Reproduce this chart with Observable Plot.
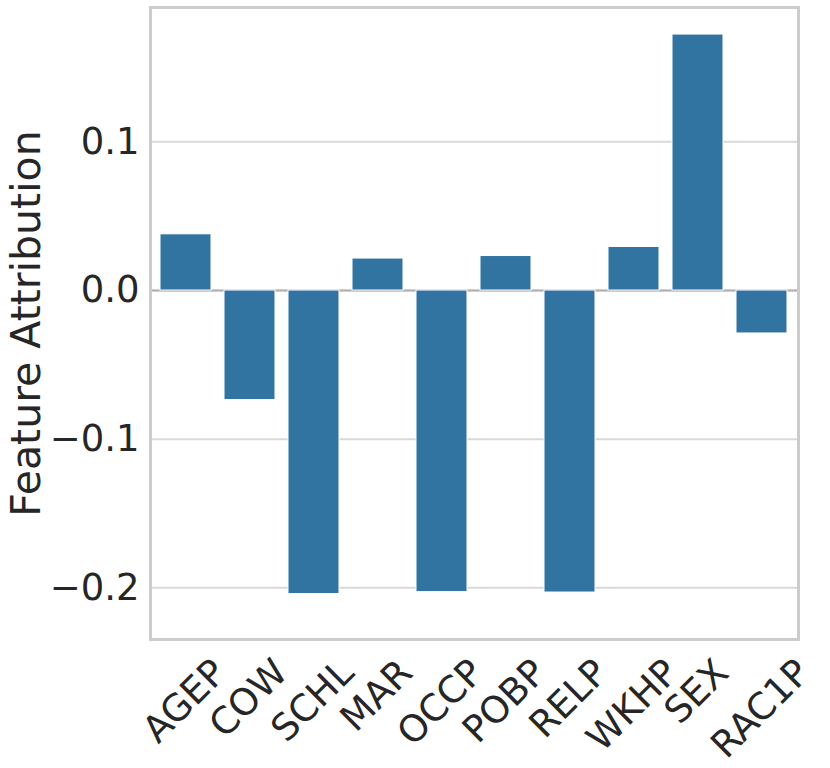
<!DOCTYPE html>
<html><head><meta charset="utf-8">
<script src="https://cdn.jsdelivr.net/npm/d3@7"></script>
<script src="https://cdn.jsdelivr.net/npm/@observablehq/plot@0.6"></script>
<style>
body{margin:0;background:#fff}
svg{font-family:"DejaVu Sans",sans-serif}
</style>
</head><body><div id="chart"></div>
<script>
const features = ["AGEP","COW","SCHL","MAR","OCCP","POBP","RELP","WKHP","SEX","RAC1P"];
const attributions = [0.0378,-0.0737,-0.2042,0.0215,-0.2029,0.0232,-0.2032,0.0293,0.1722,-0.0289];
const yTicks = [-0.2,-0.1,0,0.1];
const yLabel = "Feature Attribution";

const data = features.map((f,i)=>({feature:f, value:attributions[i]}));
const FS = 37;

const chart = Plot.plot({
  width: 830, height: 768,
  marginLeft: 150, marginRight: 32, marginTop: 7, marginBottom: 129,
  style: {color: "#262626", background: "#fff", fontFamily: "DejaVu Sans"},
  x: {domain: features, paddingInner: 0.2, paddingOuter: 0.1},
  y: {domain: [-0.2348, 0.1904]},
  marks: [
    Plot.gridY(yTicks, {stroke: "#d9d9d9", strokeOpacity: 1, strokeWidth: 2}),
    Plot.ruleY([0], {stroke: "#b0b0b0", strokeWidth: 2}),
    Plot.barY(data, {x: "feature", y: "value", fill: "#3274a1", stroke: "#fff", strokeWidth: 1}),
    Plot.frame({stroke: "#cccccc", strokeWidth: 3}),
    Plot.axisY(yTicks, {tickSize: 0, tickPadding: 11, fontSize: FS, tickFormat: d3.format(".1f"),
      label: yLabel, labelAnchor: "center", labelArrow: "none", labelOffset: 140}),
    Plot.axisX({tickSize: 0, tickRotate: -45, fontSize: FS, label: null})
  ]
});
document.getElementById("chart").appendChild(chart);

// larger axis title
chart.querySelectorAll('g[aria-label="y-axis label"] text, g[aria-label="y-axis label"]').forEach(t => {
  t.setAttribute("font-size", 41);
});

// matplotlib-like placement of rotated x tick labels: bbox centred on the tick
const h = 1.164 * FS;
chart.querySelectorAll('g[aria-label="x-axis tick label"] text').forEach(t => {
  const m = /translate\(([-\d.]+),\s*([-\d.]+)\)/.exec(t.getAttribute("transform") || "");
  const x = m ? +m[1] : 0;
  const w = t.getComputedTextLength();
  const cy = 638 + (w + h) / (2 * Math.SQRT2);
  t.setAttribute("transform", `translate(${x - 2},${cy}) rotate(-45)`);
  t.setAttribute("text-anchor", "middle");
  t.removeAttribute("y");
  t.setAttribute("dy", "0.35em");
});
</script>
</body></html>
